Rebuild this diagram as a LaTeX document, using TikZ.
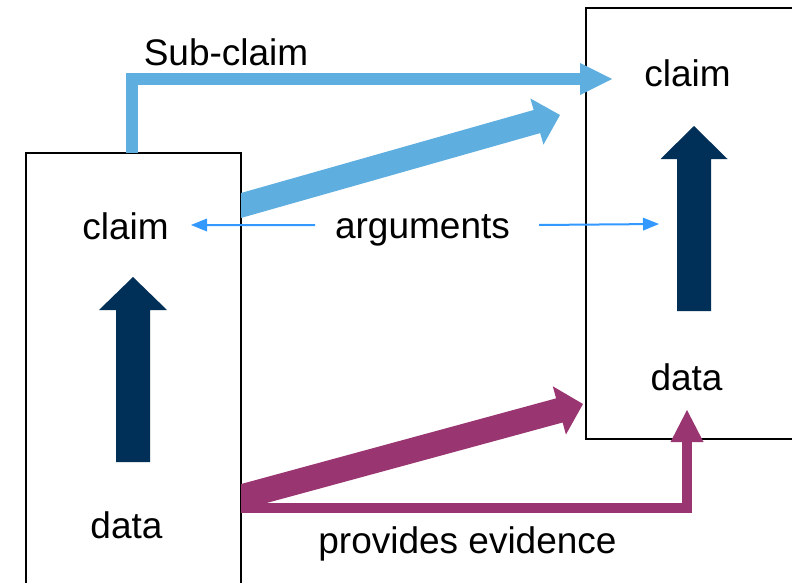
\documentclass[tikz,border=0pt]{standalone}
\usepackage{fontspec}
\setmainfont{Liberation Sans}
\usetikzlibrary{calc}
\definecolor{skyarr}{RGB}{94,174,224}
\definecolor{thinblue}{RGB}{51,153,255}
\definecolor{navyarr}{RGB}{0,47,87}
\definecolor{plumarr}{RGB}{153,54,113}
% #1 colour, #2 start, #3 tip, #4 half shaft, #5 half head, #6 head length
\newcommand{\blockarr}[6]{%
  \path ($(#3)!#6!(#2)$) coordinate (ba-h);
  \fill[#1] ($(#2)!#4!90:(#3)$) -- ($(ba-h)!#4!90:(#3)$) -- ($(ba-h)!#5!90:(#3)$) -- (#3)
    -- ($(ba-h)!#5!-90:(#3)$) -- ($(ba-h)!#4!-90:(#3)$) -- ($(#2)!#4!-90:(#3)$) -- cycle;}
\begin{document}
\begin{tikzpicture}[x=1pt,y=-1pt,
  lbl/.style={font=\fontsize{37}{40}\selectfont, inner sep=0pt, anchor=base},
  boxframe/.style={draw=black, line width=2pt, fill=none, inner sep=0pt}]
\useasboundingbox (0,0) rectangle (792,583);
\clip (0,0) rectangle (792,583);
\fill[white] (0,0) rectangle (792,583);
% boxes
\node[boxframe, minimum width=215pt, minimum height=487pt] (lbox) at (133.5,396.5) {};
\node[boxframe, minimum width=234pt, minimum height=431pt] (rbox) at (703,223.5) {};
% texts
\node[lbl] (lclaim) at (125.5,239) {claim};
\node[lbl] (ldata) at (126.5,538) {data};
\node[lbl] (rclaim) at (687.5,87) {claim};
\node[lbl] (rdata) at (686.5,390) {data};
\node[lbl] (args) at (422.5,238) {arguments};
\node[lbl] (subclaim) at (226,66) {Sub-claim};
\node[lbl] (evid) at (467.5,553) {provides evidence};
% coordinates
\coordinate (sc0) at (132,153);
\coordinate (sc1) at (580,79);
\coordinate (sct) at (612,79);
\coordinate (bl0) at (230,208.6);
\coordinate (bl1) at (560,115);
\coordinate (ln0) at (133,462);
\coordinate (ln1) at (133,277);
\coordinate (rn0) at (694,311);
\coordinate (rn1) at (694,126);
\coordinate (al0) at (315,225);
\coordinate (al1) at (191,225);
\coordinate (ar0) at (539,225);
\coordinate (ar1) at (659,224);
\coordinate (pm0) at (230,500);
\coordinate (pm1) at (583,404);
\coordinate (pe0) at (241,508);
\coordinate (pe1) at (687,442);
\coordinate (pet) at (687,410);
% Sub-claim bent arrow
\draw[skyarr, line width=12pt, line join=miter] (sc0) |- (sc1);
\fill[skyarr] ($(sc1)+(0,-16)$) -- (sct) -- ($(sc1)+(0,16)$) -- cycle;
% slanted arrows, cut off vertically at the left box's edge
\begin{scope}
\clip (241,0) rectangle (792,583);
\blockarr{skyarr}{bl0}{bl1}{12pt}{24pt}{24pt}
\blockarr{plumarr}{pm0}{pm1}{12.5pt}{25pt}{24.5pt}
\end{scope}
% navy arrows
\blockarr{navyarr}{ln0}{ln1}{17pt}{34pt}{33pt}
\blockarr{navyarr}{rn0}{rn1}{17pt}{33.5pt}{33pt}
% arguments thin arrows
\blockarr{thinblue}{al0}{al1}{1pt}{6.5pt}{16pt}
\blockarr{thinblue}{ar0}{ar1}{1pt}{6.5pt}{16pt}
% provides evidence bent arrow
\draw[plumarr, line width=10pt, line join=miter] (pe0) -| (pe1);
\fill[plumarr] ($(pe1)+(-16.5,0)$) -- (pet) -- ($(pe1)+(16.5,0)$) -- cycle;
\end{tikzpicture}
\end{document}
